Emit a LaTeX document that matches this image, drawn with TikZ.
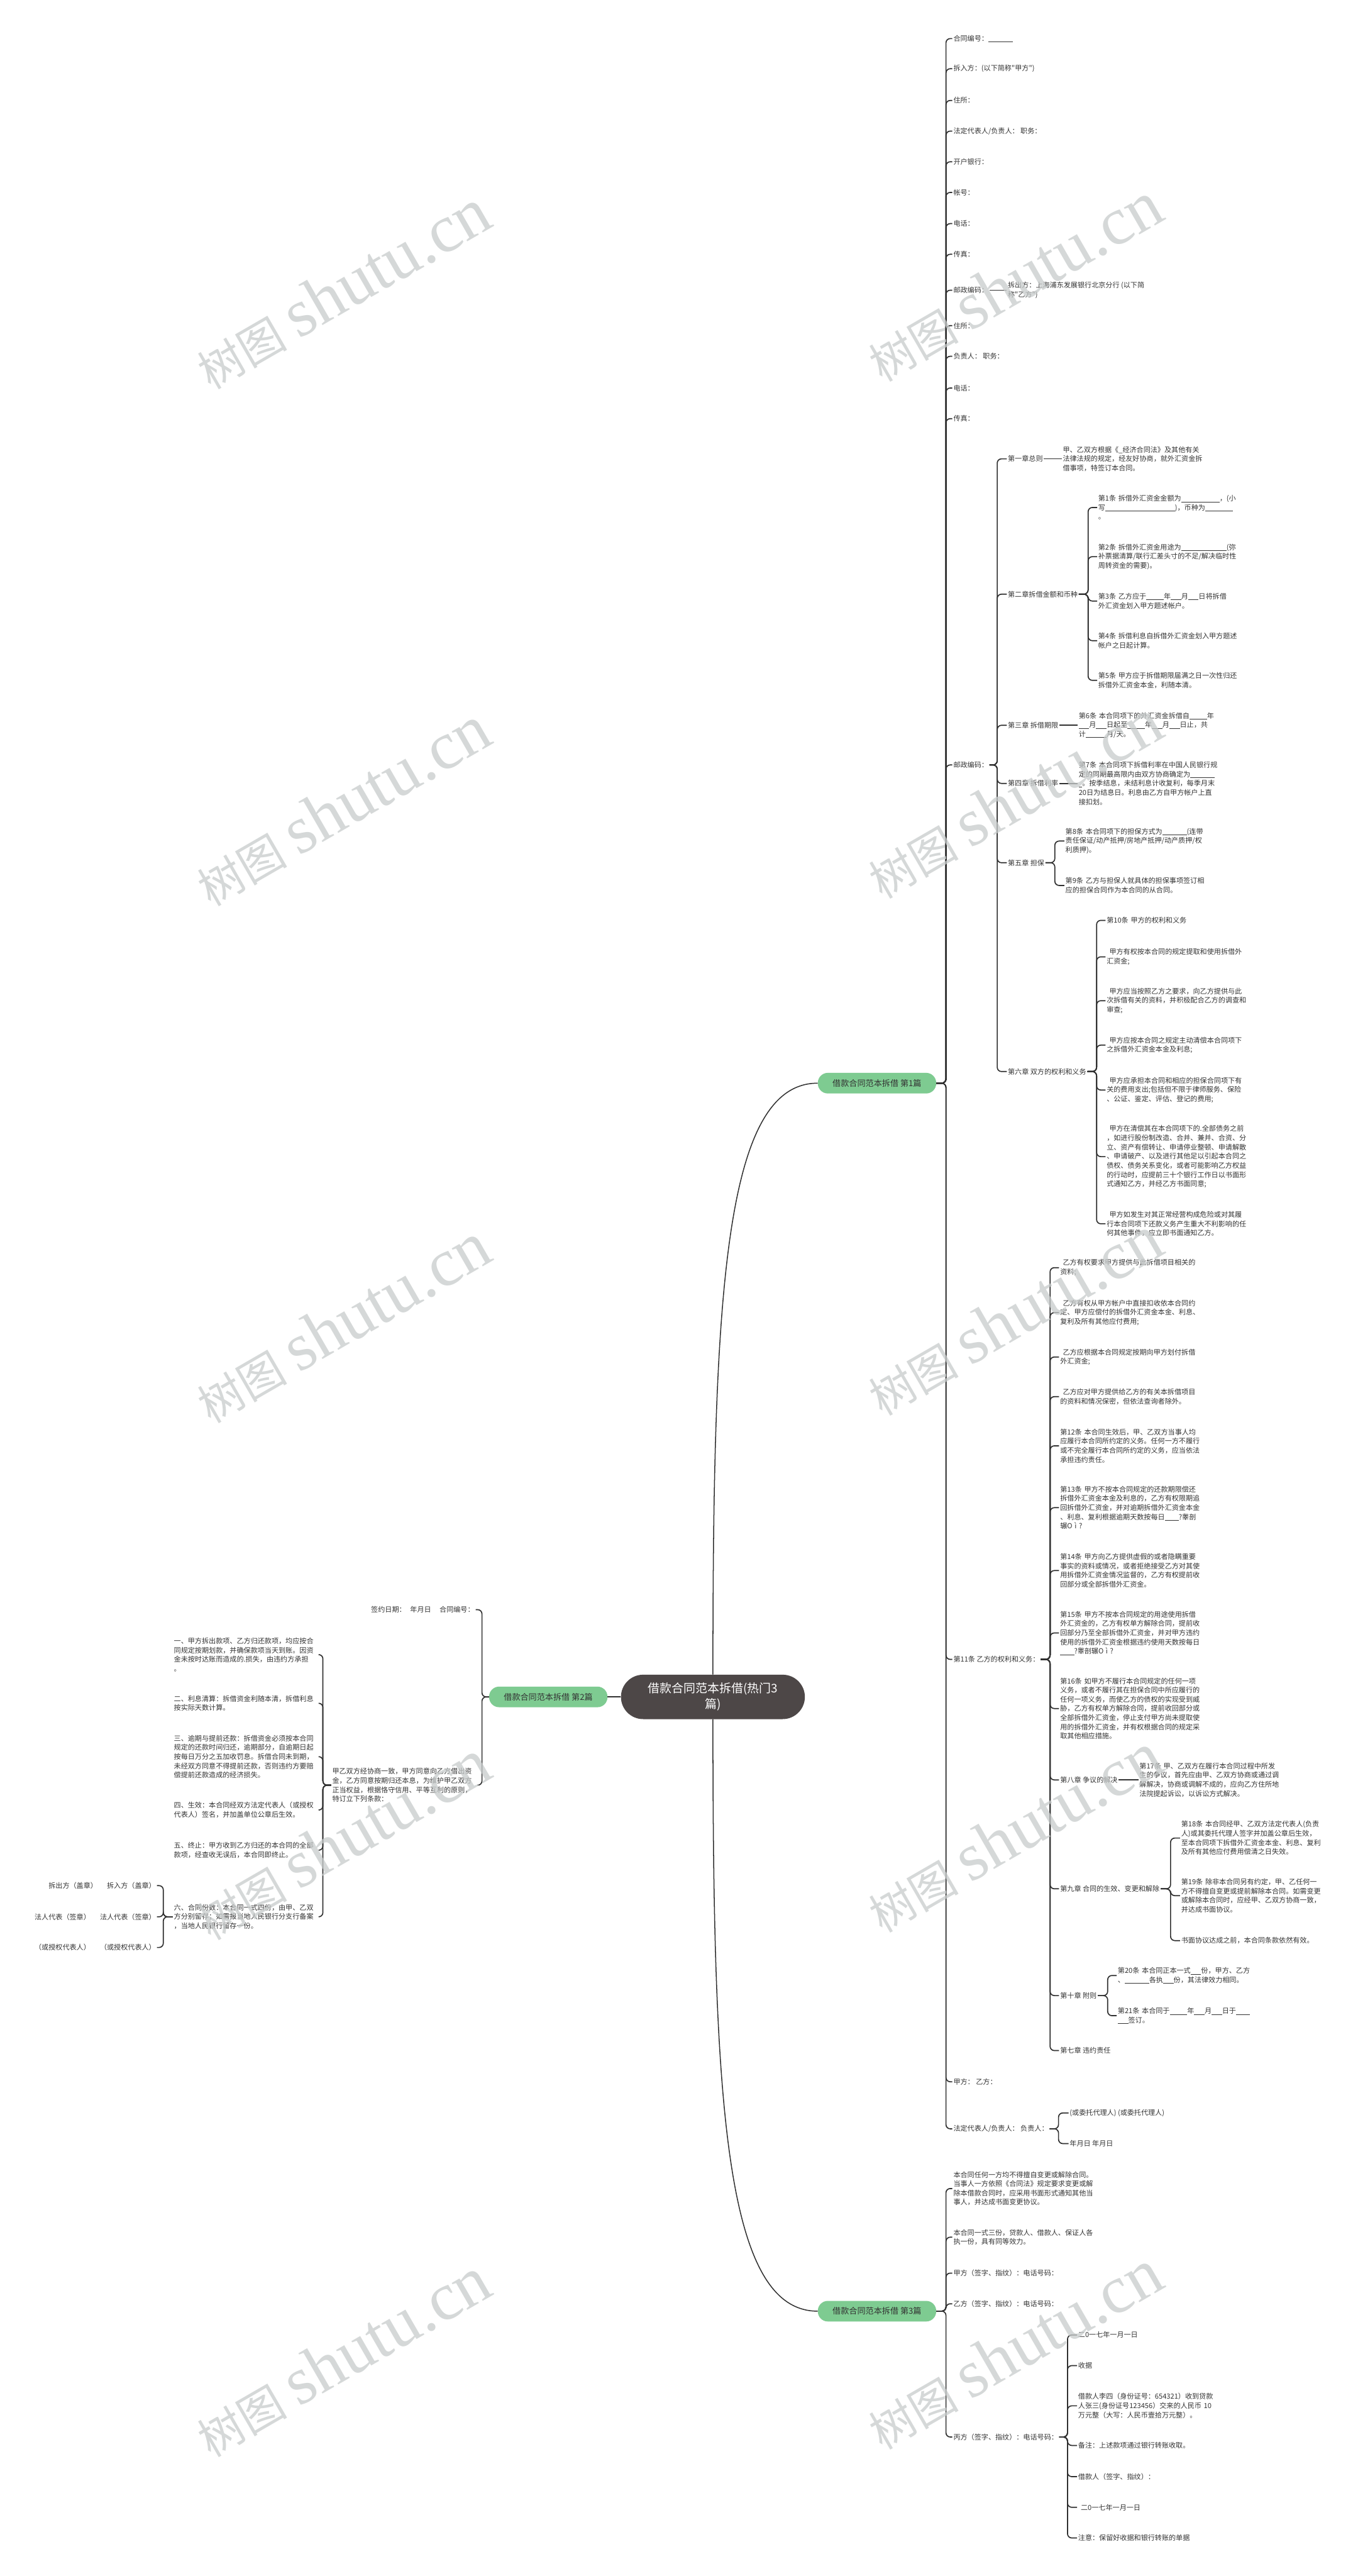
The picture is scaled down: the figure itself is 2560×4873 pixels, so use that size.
\documentclass[tikz,border=0pt]{standalone}
\usepackage{fontspec}
\newfontfamily\cjk{Noto Sans CJK SC}
\newfontfamily\wmserif{Liberation Serif}
\definecolor{tc}{HTML}{333333}
\definecolor{lc}{HTML}{303030}
\definecolor{cfill}{HTML}{4D4747}
\definecolor{pg}{HTML}{7ECB91}
\definecolor{wmc}{HTML}{C8CCCC}
\newcommand\tf{\cjk\fontsize{13.2}{17.4}\selectfont}
\newcommand\bl[1]{\rule[-1.7pt]{\dimexpr 6.6pt*#1\relax}{0.7pt}}
\newcommand\ind{\hspace*{5pt}}
\newcommand\kids[3]{\coordinate (jx) at (#2,0);\foreach \nn in {#3}{\draw[conn] (#1.east) -- (#1.east -| jx) |- (\nn.west);}}
\newcommand\lkids[3]{\coordinate (jx) at (#2,0);\foreach \nn in {#3}{\draw[conn] (#1.west) -- (#1.west -| jx) |- (\nn.east);}}
\newcommand\wmtext{{\cjk\fontsize{85}{85}\selectfont 树图}\hspace{22pt}{\wmserif\fontsize{128}{128}\selectfont shutu.cn}}
\tikzset{
 txt/.style={font=\tf, text=tc, inner xsep=2pt, inner ysep=1pt, align=left, anchor=west},
 txtw/.style={txt, text width=272pt},
 conn/.style={draw=lc, line width=2pt, rounded corners=8pt},
 curve/.style={draw=lc, line width=1.8pt},
 pill/.style={fill=pg, rounded corners=19pt, minimum width=224pt, minimum height=39pt, font=\cjk\fontsize{15.6}{18}\selectfont, text=tc, inner sep=0pt},
 ctrbox/.style={fill=cfill, rounded corners=42pt, minimum width=348pt, minimum height=84pt, font=\cjk\fontsize{22.5}{30}\selectfont, text=white, align=center, inner sep=0pt},
 wmark/.style={rotate=30, text=wmc, text opacity=0.75, inner sep=0pt},
}
\begin{document}
\begin{tikzpicture}[x=1pt,y=-1pt]
\useasboundingbox (0,0) rectangle (2560,4873);
\fill[white] (0,0) rectangle (2560,4873);

% main nodes
\node[ctrbox] (ctr) at (1349,3210) {借款合同范本拆借(热门3\\篇)};
\node[pill] (p1) at (1659.5,2049) {借款合同范本拆借 第1篇};
\node[pill] (p2) at (1037.5,3210) {借款合同范本拆借 第2篇};
\node[pill] (p3) at (1659.5,4372) {借款合同范本拆借 第3篇};

% first-level right (p1)
\node[txt] (r1) at (1802,73) {合同编号：\bl{7}};
\node[txt] (r2) at (1802,130) {拆入方：(以下简称"甲方")};
\node[txt] (r3) at (1802,190) {住所：};
\node[txt] (r4) at (1802,248) {法定代表人/负责人： 职务：};
\node[txt] (r5) at (1802,306) {开户银行：};
\node[txt] (r6) at (1802,364) {帐号：};
\node[txt] (r7) at (1802,423) {电话：};
\node[txt] (r8) at (1802,481) {传真：};
\node[txt] (r9) at (1802,549) {邮政编码：};
\node[txt] (r9a) at (1905,549) {拆出方：上海浦东发展银行北京分行 (以下简\\称"乙方")};
\node[txt] (r10) at (1802,616) {住所：};
\node[txt] (r11) at (1802,674) {负责人： 职务：};
\node[txt] (r12) at (1802,734) {电话：};
\node[txt] (r13) at (1802,792) {传真：};
\node[txt] (r14) at (1802,1447) {邮政编码：};
\node[txt] (r15) at (1802,3139) {第11条 乙方的权利和义务：};
\node[txt] (r16) at (1802,3938) {甲方： 乙方：};
\node[txt] (r17) at (1802,4027) {法定代表人/负责人： 负责人：};
\node[txt] (r17a) at (2022,3997) {(或委托代理人) (或委托代理人)};
\node[txt] (r17b) at (2022,4055) {年月日 年月日};

% chapters
\node[txt] (c1) at (1905,868) {第一章总则};
\node[txtw] (c1a) at (2009,868) {甲、乙双方根据《\_经济合同法》及其他有关\\法律法规的规定，经友好协商，就外汇资金拆\\借事项，特签订本合同。};
\node[txt] (c2) at (1905,1124) {第二章拆借金额和币种};
\node[txtw] (c2a) at (2076,960) {第1条 拆借外汇资金金额为\bl{11}，(小\\写\bl{20})，币种为\bl{8}\\。};
\node[txtw] (c2b) at (2076,1053) {第2条 拆借外汇资金用途为\bl{13}(弥\\补票据清算/联行汇差头寸的不足/解决临时性\\周转资金的需要)。};
\node[txtw] (c2c) at (2076,1137) {第3条 乙方应于\bl{5}年\bl{3}月\bl{3}日将拆借\\外汇资金划入甲方题述帐户。};
\node[txtw] (c2d) at (2076,1212) {第4条 拆借利息自拆借外汇资金划入甲方题述\\帐户之日起计算。};
\node[txtw] (c2e) at (2076,1287) {第5条 甲方应于拆借期限届满之日一次性归还\\拆借外汇资金本金，利随本清。};
\node[txt] (c3) at (1905,1372) {第三章 拆借期限};
\node[txtw] (c3a) at (2039,1372) {第6条 本合同项下的外汇资金拆借自\bl{5}年\\\bl{3}月\bl{3}日起至\bl{5}年\bl{3}月\bl{3}日止，共\\计\bl{6}月/天。};
\node[txt] (c4) at (1905,1482) {第四章 拆借利率};
\node[txtw] (c4a) at (2039,1482) {第7条 本合同项下拆借利率在中国人民银行规\\定的同期最高限内由双方协商确定为\bl{7}\\\bl{1}。按季结息，未结利息计收复利，每季月末\\20日为结息日。利息由乙方自甲方帐户上直\\接扣划。};
\node[txt] (c5) at (1905,1632) {第五章 担保};
\node[txtw] (c5a) at (2014,1591) {第8条 本合同项下的担保方式为\bl{7}(连带\\责任保证/动产抵押/房地产抵押/动产质押/权\\利质押)。};
\node[txtw] (c5b) at (2014,1675) {第9条 乙方与担保人就具体的担保事项签订相\\应的担保合同作为本合同的从合同。};
\node[txt] (c6) at (1905,2027) {第六章 双方的权利和义务};
\node[txtw] (c6a) at (2092,1741) {第10条 甲方的权利和义务};
\node[txtw] (c6b) at (2092,1810) {\ind 甲方有权按本合同的规定提取和使用拆借外\\汇资金;};
\node[txtw] (c6c) at (2092,1893) {\ind 甲方应当按照乙方之要求，向乙方提供与此\\次拆借有关的资料，并积极配合乙方的调查和\\审查;};
\node[txtw] (c6d) at (2092,1977) {\ind 甲方应按本合同之规定主动清偿本合同项下\\之拆借外汇资金本金及利息;};
\node[txtw] (c6e) at (2092,2062) {\ind 甲方应承担本合同和相应的担保合同项下有\\关的费用支出;包括但不限于律师服务、保险\\、公证、鉴定、评估、登记的费用;};
\node[txtw] (c6f) at (2092,2188) {\ind 甲方在清偿其在本合同项下的.全部债务之前\\，如进行股份制改造、合并、兼并、合资、分\\立、资产有偿转让、申请停业整顿、申请解散\\、申请破产、以及进行其他足以引起本合同之\\债权、债务关系变化，或者可能影响乙方权益\\的行动时，应提前三十个银行工作日以书面形\\式通知乙方，并经乙方书面同意;};
\node[txtw] (c6g) at (2092,2315) {\ind 甲方如发生对其正常经营构成危险或对其履\\行本合同项下还款义务产生重大不利影响的任\\何其他事件，应立即书面通知乙方。};

% 11
\node[txtw] (d1) at (2004,2398) {\ind 乙方有权要求甲方提供与此拆借项目相关的\\资料;};
\node[txtw] (d2) at (2004,2483) {\ind 乙方有权从甲方帐户中直接扣收依本合同约\\定、甲方应偿付的拆借外汇资金本金、利息、\\复利及所有其他应付费用;};
\node[txtw] (d3) at (2004,2567) {\ind 乙方应根据本合同规定按期向甲方划付拆借\\外汇资金;};
\node[txtw] (d4) at (2004,2642) {\ind 乙方应对甲方提供给乙方的有关本拆借项目\\的资料和情况保密，但依法查询者除外。};
\node[txtw] (d5) at (2004,2735) {第12条 本合同生效后，甲、乙双方当事人均\\应履行本合同所约定的义务。任何一方不履行\\或不完全履行本合同所约定的义务，应当依法\\承担违约责任。};
\node[txtw] (d6) at (2004,2852) {第13条 甲方不按本合同规定的还款期限偿还\\拆借外汇资金本金及利息的，乙方有权限期追\\回拆借外汇资金，并对逾期拆借外汇资金本金\\、利息、复利根据逾期天数按每日\bl{4}?睾剖\\辗O ì ?};
\node[txtw] (d7) at (2004,2971) {第14条 甲方向乙方提供虚假的或者隐瞒重要\\事实的资料或情况，或者拒绝接受乙方对其使\\用拆借外汇资金情况监督的，乙方有权提前收\\回部分或全部拆借外汇资金。};
\node[txtw] (d8) at (2004,3089) {第15条 甲方不按本合同规定的用途使用拆借\\外汇资金的，乙方有权单方解除合同，提前收\\回部分乃至全部拆借外汇资金，并对甲方违约\\使用的拆借外汇资金根据违约使用天数按每日\\\bl{4}?睾剖辗O ì ?};
\node[txtw] (d9) at (2004,3232) {第16条 如甲方不履行本合同规定的任何一项\\义务，或者不履行其在担保合同中所应履行的\\任何一项义务，而使乙方的债权的实现受到威\\胁，乙方有权单方解除合同，提前收回部分或\\全部拆借外汇资金，停止支付甲方尚未提取使\\用的拆借外汇资金，并有权根据合同的规定采\\取其他相应措施。};
\node[txt] (d10) at (2004,3367) {第八章 争议的解决};
\node[txtw] (d10a) at (2154,3367) {第17条 甲、乙双方在履行本合同过程中所发\\生的争议，首先应由甲、乙双方协商或通过调\\解解决，协商或调解不成的，应向乙方住所地\\法院提起诉讼，以诉讼方式解决。};
\node[txt] (d11) at (2004,3573) {第九章 合同的生效、变更和解除};
\node[txtw] (d11a) at (2233,3477) {第18条 本合同经甲、乙双方法定代表人(负责\\人)或其委托代理人签字并加盖公章后生效，\\至本合同项下拆借外汇资金本金、利息、复利\\及所有其他应付费用偿清之日失效。};
\node[txtw] (d11b) at (2233,3586) {第19条 除非本合同另有约定，甲、乙任何一\\方不得擅自变更或提前解除本合同。如需变更\\或解除本合同时，应经甲、乙双方协商一致，\\并达成书面协议。};
\node[txt] (d11c) at (2233,3671) {书面协议达成之前，本合同条款依然有效。};
\node[txt] (d12) at (2004,3775) {第十章 附则};
\node[txtw] (d12a) at (2113,3737) {第20条 本合同正本一式\bl{3}份，甲方、乙方\\、\bl{7}各执\bl{3}份，其法律效力相同。};
\node[txtw] (d12b) at (2113,3813) {第21条 本合同于\bl{5}年\bl{3}月\bl{3}日于\bl{4}\\\bl{3}签订。};
\node[txt] (d13) at (2004,3879) {第七章 违约责任};

% p3
\node[txtw] (s1) at (1802,4140) {本合同任何一方均不得擅自变更或解除合同。\\当事人一方依照《合同法》规定要求变更或解\\除本借款合同时，应采用书面形式通知其他当\\事人，并达成书面变更协议。};
\node[txtw] (s2) at (1802,4232) {本合同一式三份，贷款人、借款人、保证人各\\执一份，具有同等效力。};
\node[txt] (s3) at (1802,4300) {甲方（签字、指纹）：电话号码：};
\node[txt] (s4) at (1802,4358) {乙方（签字、指纹）：电话号码：};
\node[txt] (s5) at (1802,4610) {丙方（签字、指纹）：电话号码：};
\node[txt] (s5a) at (2038,4417) {二0一七年一月一日};
\node[txt] (s5b) at (2038,4475) {收据};
\node[txtw] (s5c) at (2038,4551) {借款人李四（身份证号：654321）收到贷款\\人张三(身份证号123456）交来的人民币 10\\万元整（大写：人民币壹拾万元整）。};
\node[txt] (s5d) at (2038,4626) {备注：上述款项通过银行转账收取。};
\node[txt] (s5e) at (2038,4685) {借款人（签字、指纹）：};
\node[txt] (s5f) at (2038,4743) {\ind 二0一七年一月一日};
\node[txt] (s5g) at (2038,4801) {注意：保留好收据和银行转账的单据};

% p2 (left)
\node[txt, anchor=east, align=right] (l1) at (900,3045) {签约日期：\hspace{8pt}年月日\hspace{16pt}合同编号：};
\node[txtw, anchor=east] (l2) at (903,3377) {甲乙双方经协商一致，甲方同意向乙方借出资\\金，乙方同意按期归还本息，为维护甲乙双方\\正当权益，根据恪守信用、平等互利的原则，\\特订立下列条款：};
\node[txtw] (m1) at (327,3130) {一、甲方拆出款项、乙方归还款项，均应按合\\同规定按期划款，并确保款项当天到账。因资\\金未按时达账而造成的.损失，由违约方承担\\。};
\node[txtw] (m2) at (327,3222) {二、利息清算：拆借资金利随本清，拆借利息\\按实际天数计算。};
\node[txtw] (m3) at (327,3323) {三、逾期与提前还款：拆借资金必须按本合同\\规定的还款时间归还，逾期部分，自逾期日起\\按每日万分之五加收罚息。拆借合同未到期，\\未经双方同意不得提前还款，否则违约方要赔\\偿提前还款造成的经济损失。};
\node[txtw] (m4) at (327,3424) {四、生效：本合同经双方法定代表人（或授权\\代表人）签名，并加盖单位公章后生效。};
\node[txtw] (m5) at (327,3500) {五、终止：甲方收到乙方归还的本合同的全部\\款项，经查收无误后，本合同即终止。};
\node[txtw] (m6) at (327,3626) {六、合同份数：本合同一式四份，由甲、乙双\\方分别留存；如需报当地人民银行分支行备案\\，当地人民银行留存一份。};
\node[txt, anchor=east, align=right] (n1) at (297,3567) {拆出方（盖章）\hspace{18pt}拆入方（盖章）};
\node[txt, anchor=east, align=right] (n2) at (297,3626) {法人代表（签章）\hspace{18pt}法人代表（签章）};
\node[txt, anchor=east, align=right] (n3) at (297,3684) {（或授权代表人）\hspace{18pt}（或授权代表人）};

% connectors
\draw[curve] (ctr.west) -- (p2.east);
\draw[curve] (ctr.north) .. controls (1349,2450) and (1370,2049) .. (p1.west);
\draw[curve] (ctr.south) .. controls (1349,3971) and (1370,4372) .. (p3.west);
\kids{p1}{1790}{r1,r2,r3,r4,r5,r6,r7,r8,r9,r10,r11,r12,r13,r14,r15,r16,r17}
\draw[conn] (r9.east) -- (r9a.west);
\kids{r14}{1887}{c1,c2,c3,c4,c5,c6}
\draw[conn] (c1.east) -- (c1a.west);
\kids{c2}{2059}{c2a,c2b,c2c,c2d,c2e}
\draw[conn] (c3.east) -- (c3a.west);
\draw[conn] (c4.east) -- (c4a.west);
\kids{c5}{1996}{c5a,c5b}
\kids{c6}{2075}{c6a,c6b,c6c,c6d,c6e,c6f,c6g}
\kids{r15}{1987}{d1,d2,d3,d4,d5,d6,d7,d8,d9,d10,d11,d12,d13}
\draw[conn] (d10.east) -- (d10a.west);
\kids{d11}{2215}{d11a,d11b,d11c}
\kids{d12}{2096}{d12a,d12b}
\kids{r17}{2003}{r17a,r17b}
\kids{p3}{1790}{s1,s2,s3,s4,s5}
\kids{s5}{2020}{s5a,s5b,s5c,s5d,s5e,s5f,s5g}
\lkids{p2}{912}{l1,l2}
\lkids{l2}{611}{m1,m2,m3,m4,m5,m6}
\lkids{m6}{309}{n1,n2,n3}

% watermarks
\foreach \k in {0,...,4}{
 \node[wmark] at (648,{547+978*\k}) {\wmtext};
 \node[wmark] at (1919,{533+978*\k}) {\wmtext};
}
\end{tikzpicture}
\end{document}
